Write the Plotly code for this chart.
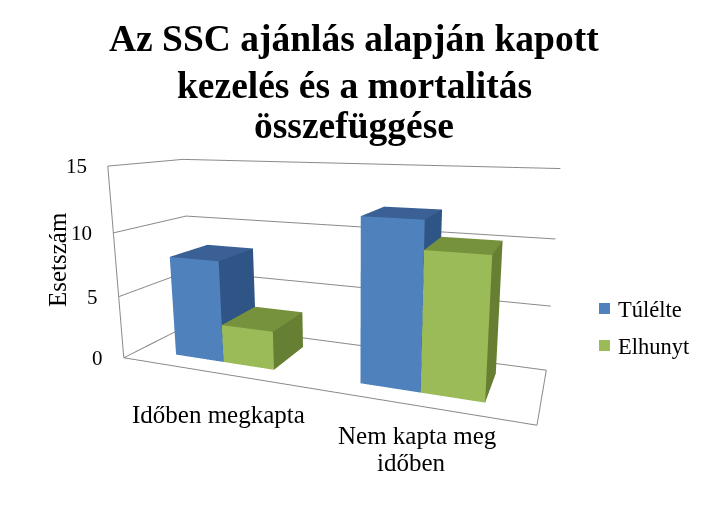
import plotly.graph_objects as go
import math

W, H = 709, 506

title_lines = ["Az SSC ajánlás alapján kapott", "kezelés és a mortalitás", "összefüggése"]
categories = ["Időben megkapta", "Nem kapta meg<br>időben"]
series_names = ["Túlélte", "Elhunyt"]
survived = [8, 12]
died = [3, 10]
z_ticks = [0, 5, 10, 15]
y_label = "Esetszám"

front_colors = ["#4F81BD", "#9BBB59"]
top_colors = ["#3A6095", "#76923C"]
side_colors = ["#2F5486", "#667F33"]
GRID = "#8A8A8A"
FONT = "Liberation Serif"

BAR_W = 0.28
DEPTH = (0.22, 0.78)

# camera angles, in degrees
yaw = 23
pitch = 13.5
dist = 2.0
box_x, box_y, box_z = 1.38, 0.40, 0.66


def px(x):
    return x / W


def py(y):
    return 1 - y / H


def bar_mesh(x0, x1, value, idx):
    y0, y1 = DEPTH
    xs = [x0, x1, x1, x0, x0, x1, x1, x0]
    ys = [y0, y0, y1, y1, y0, y0, y1, y1]
    zs = [0, 0, 0, 0, value, value, value, value]
    # front, top and right faces only, the others are never seen
    i = [0, 0, 4, 4, 1, 1]
    j = [1, 5, 5, 6, 2, 6]
    k = [5, 4, 6, 7, 6, 5]
    colors = [front_colors[idx]] * 2 + [top_colors[idx]] * 2 + [side_colors[idx]] * 2
    return go.Mesh3d(x=xs, y=ys, z=zs, i=i, j=j, k=k, facecolor=colors, flatshading=True,
                     lighting=dict(ambient=1, diffuse=0, specular=0, fresnel=0),
                     hoverinfo="skip", showlegend=False)


fig = go.Figure()

for c in range(len(categories)):
    mid = c + 0.5
    fig.add_trace(bar_mesh(mid - BAR_W, mid, survived[c], 0))
    fig.add_trace(bar_mesh(mid, mid + BAR_W, died[c], 1))

# floor outline and the one upright of the side wall
x_end = len(categories)
zmax = z_ticks[-1]
fig.add_trace(go.Scatter3d(x=[0, x_end, x_end, 0, 0], y=[0, 0, 1, 1, 0], z=[0] * 5, mode="lines",
                           line=dict(color=GRID, width=2), hoverinfo="skip", showlegend=False))
fig.add_trace(go.Scatter3d(x=[0, 0], y=[0, 0], z=[0, zmax], mode="lines",
                           line=dict(color=GRID, width=2), hoverinfo="skip", showlegend=False))

ry, rp = math.radians(yaw), math.radians(pitch)
eye = dict(x=dist * math.sin(ry) * math.cos(rp), y=-dist * math.cos(ry) * math.cos(rp), z=dist * math.sin(rp))

hidden = dict(showgrid=False, zeroline=False, showticklabels=False, showbackground=False,
              showline=False, showspikes=False, ticks="", title="")

black = dict(family=FONT, size=21, color="#000000")
z_notes = [dict(x=0, y=0, z=t, text=str(t), showarrow=False, xanchor="right", xshift=-19, font=black)
           for t in z_ticks]

fig.update_layout(
    width=W, height=H, margin=dict(l=0, r=0, t=0, b=0), paper_bgcolor="white", showlegend=False,
    scene=dict(
        domain=dict(x=[0, 1], y=[0, 1]),
        bgcolor="white",
        aspectmode="manual",
        aspectratio=dict(x=box_x, y=box_y, z=box_z),
        camera=dict(eye=eye, up=dict(x=0, y=0, z=1), center=dict(x=0.09, y=0, z=0.06),
                    projection=dict(type="perspective")),
        xaxis=dict(range=[0, x_end], **hidden),
        yaxis=dict(range=[0, 1], **hidden),
        zaxis=dict(range=[0, zmax], tickvals=z_ticks, showgrid=True, gridcolor=GRID, gridwidth=2,
                   zeroline=False, showbackground=False, showline=False, showspikes=False, ticks="",
                   showticklabels=False, title=""),
        annotations=z_notes,
    ),
)

for n, line in enumerate(title_lines):
    fig.add_annotation(x=px(354), y=py([38, 85, 125][n]), xref="paper", yref="paper", text="<b>%s</b>" % line,
                       showarrow=False, xanchor="center", yanchor="middle",
                       font=dict(family=FONT, size=37.5, color="#000000"))

# label lines sit closer together than plotly's own line height
label_spots = [[(218, 414)], [(417, 435), (411, 462)]]
for c, label in enumerate(categories):
    for part, spot in zip(label.split("<br>"), label_spots[c]):
        fig.add_annotation(x=px(spot[0]), y=py(spot[1]), xref="paper", yref="paper", text=part,
                           showarrow=False, xanchor="center", yanchor="middle",
                           font=dict(family=FONT, size=25, color="#000000"))

fig.add_annotation(x=px(57), y=py(260), xref="paper", yref="paper", text=y_label, textangle=-90,
                   showarrow=False, xanchor="center", yanchor="middle",
                   font=dict(family=FONT, size=25, color="#000000"))

for n, name in enumerate(series_names):
    top = [303, 340][n]
    fig.add_shape(type="rect", xref="paper", yref="paper", x0=px(599), x1=px(610), y0=py(top), y1=py(top + 11),
                  fillcolor=front_colors[n], line_width=0)
    fig.add_annotation(x=px(616), y=py(top + 6), xref="paper", yref="paper", text=name, showarrow=False,
                       xanchor="left", yanchor="middle", font=dict(family=FONT, size=22.5, color="#000000"))

# the page's default body margin would push the figure 8px off
fig.write_html("out.html", config=dict(displayModeBar=False), post_script="document.body.style.margin = '0';")
